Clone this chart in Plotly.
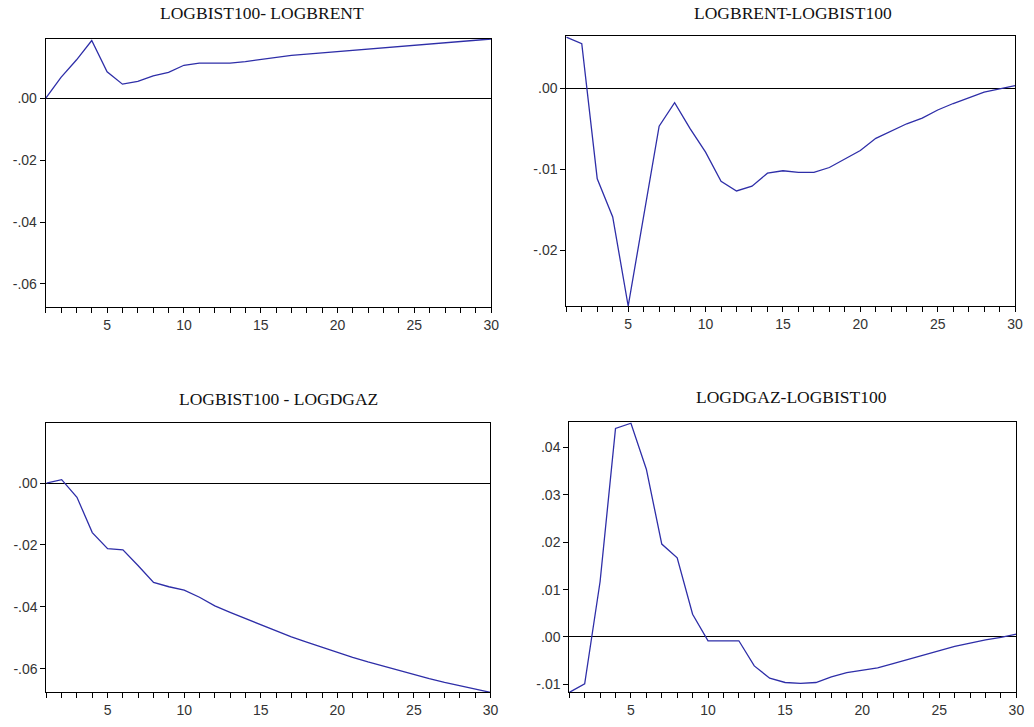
import plotly.graph_objects as go

periods = list(range(1, 31))

bist_brent = [0.0, 0.0068, 0.0124, 0.0187, 0.0086, 0.0046, 0.0055, 0.0073, 0.0084, 0.0107,
              0.0114, 0.0114, 0.0114, 0.0119, 0.0126, 0.0134, 0.0139, 0.0143, 0.0147, 0.0151,
              0.0155, 0.0160, 0.0164, 0.0168, 0.0173, 0.0177, 0.0181, 0.0185, 0.0189, 0.0192]

brent_bist = [0.0063, 0.0055, -0.0112, -0.0159, -0.0269, -0.0159, -0.0047, -0.0018, -0.0050, -0.0079,
              -0.0115, -0.0127, -0.0121, -0.0105, -0.0102, -0.0104, -0.0104, -0.0098, -0.0088, -0.0077,
              -0.0062, -0.0053, -0.0044, -0.0037, -0.0027, -0.0019, -0.0012, -0.0005, -0.0001, 0.0003]

bist_dgaz = [0.0, 0.0011, -0.0046, -0.0160, -0.0212, -0.0216, -0.0267, -0.0321, -0.0335, -0.0346,
             -0.0369, -0.0397, -0.0418, -0.0438, -0.0459, -0.0479, -0.0497, -0.0514, -0.0531, -0.0547,
             -0.0563, -0.0578, -0.0592, -0.0606, -0.0619, -0.0632, -0.0644, -0.0655, -0.0666, -0.0676]

dgaz_bist = [-0.0117, -0.0099, 0.0117, 0.0440, 0.0451, 0.0354, 0.0196, 0.0167, 0.0048, -0.0008,
             -0.0008, -0.0008, -0.0061, -0.0087, -0.0096, -0.0098, -0.0096, -0.0084, -0.0075, -0.0070,
             -0.0065, -0.0056, -0.0047, -0.0038, -0.0029, -0.0020, -0.0013, -0.0006, -0.0001, 0.0006]

titles = ["LOGBIST100- LOGBRENT", "LOGBRENT-LOGBIST100", "LOGBIST100 - LOGDGAZ", "LOGDGAZ-LOGBIST100"]

x_tick_vals = periods
x_tick_text = [str(p) if p % 5 == 0 else "" for p in periods]

y_ticks_a = [0.00, -0.02, -0.04, -0.06]
y_text_a = [".00", "-.02", "-.04", "-.06"]
y_ticks_b = [0.00, -0.01, -0.02]
y_text_b = [".00", "-.01", "-.02"]
y_ticks_d = [0.04, 0.03, 0.02, 0.01, 0.00, -0.01]
y_text_d = [".04", ".03", ".02", ".01", ".00", "-.01"]

series = [bist_brent, brent_bist, bist_dgaz, dgaz_bist]
yranges = [[-0.0675, 0.0193], [-0.0269, 0.0064], [-0.0676, 0.0194], [-0.01167, 0.0453]]
yticks = [(y_ticks_a, y_text_a), (y_ticks_b, y_text_b), (y_ticks_a, y_text_a), (y_ticks_d, y_text_d)]

W, H = 1034, 727
boxes = [  # left, right, top, bottom in page pixels
    (46, 495, 38.7, 307),
    (570.7, 1023, 36.3, 306),
    (46.7, 494.3, 423, 692.3),
    (573.7, 1024.3, 422.3, 692.3),
]
title_pos = [(264, 13), (799, 13), (281, 399), (798, 397)]

fig = go.Figure()
line_color = "#2e2ea8"
tick_font = dict(family="Liberation Sans, Arial, sans-serif", size=14, color="#333333")

for i in range(4):
    n = "" if i == 0 else str(i + 1)
    fig.add_trace(go.Scatter(x=periods, y=series[i], mode="lines",
                             line=dict(color=line_color, width=1.3),
                             xaxis="x" + n, yaxis="y" + n, showlegend=False,
                             hoverinfo="skip"))
    l, r, t, b = boxes[i]
    xa = dict(domain=[l / W, r / W], range=[1, 30], anchor="y" + n,
              tickvals=x_tick_vals, ticktext=x_tick_text, ticks="outside", ticklen=5,
              tickcolor="black", tickwidth=1, showgrid=False, zeroline=False,
              showline=True, linecolor="black", linewidth=1, mirror=True,
              tickfont=tick_font)
    ya = dict(domain=[1 - b / H, 1 - t / H], range=yranges[i], anchor="x" + n,
              tickvals=yticks[i][0], ticktext=yticks[i][1], ticks="outside", ticklen=5,
              tickcolor="black", tickwidth=1, showgrid=False,
              zeroline=True, zerolinecolor="black", zerolinewidth=1,
              showline=True, linecolor="black", linewidth=1, mirror=True,
              tickfont=tick_font)
    fig.update_layout(**{"xaxis" + n: xa, "yaxis" + n: ya})
    tx, ty = title_pos[i]
    fig.add_annotation(text=titles[i], x=tx / W, y=1 - ty / H,
                       xref="paper", yref="paper",
                       showarrow=False, xanchor="center", yanchor="middle",
                       font=dict(family="Liberation Serif, Times New Roman, serif", size=17.5, color="#111111"))

fig.update_layout(width=W, height=H, margin=dict(l=0, r=0, t=0, b=0),
                  paper_bgcolor="white", plot_bgcolor="white")

fig.write_html("out.html",
               config={"displayModeBar": False, "staticPlot": True},
               post_script="document.body.style.margin='0px';document.body.style.overflow='hidden';")
